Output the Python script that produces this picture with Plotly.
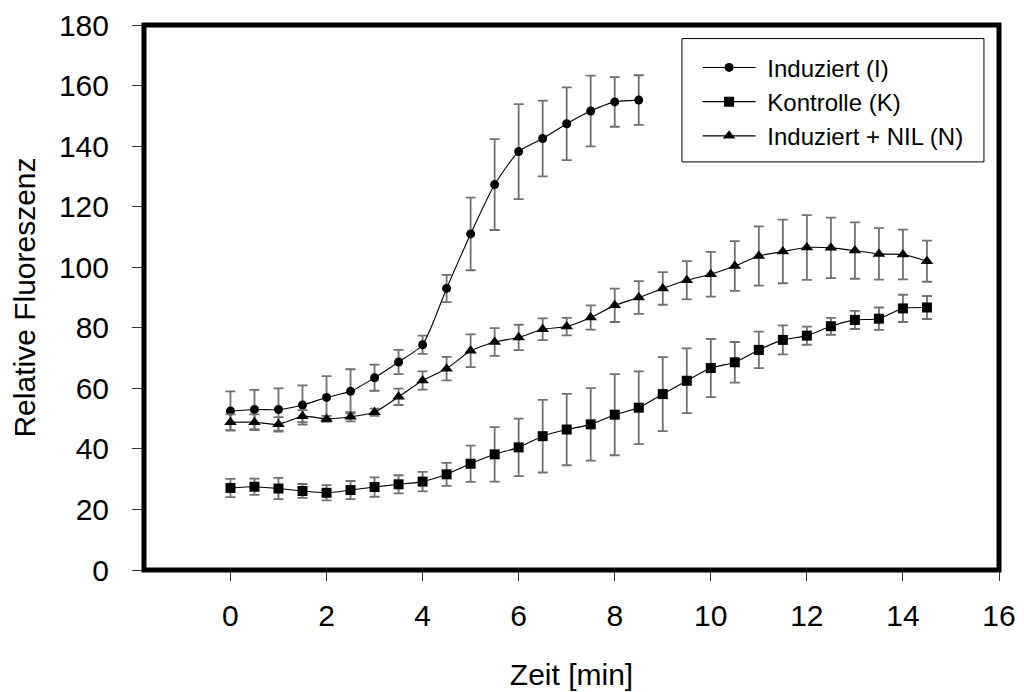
import plotly.graph_objects as go

zeit_i = [0, 0.5, 1, 1.5, 2, 2.5, 3, 3.5, 4, 4.5, 5, 5.5, 6, 6.5, 7, 7.5, 8, 8.5]
induziert = [52.5, 53, 53, 54.5, 57, 59, 63.5, 68.7, 74.4, 93, 111, 127.3, 138.2, 142.5, 147.4, 151.6, 154.6, 155.2]
induziert_err = [6.5, 6.5, 7, 6.5, 7, 7.3, 4.3, 4, 3, 4.5, 12, 15, 15.7, 12.5, 12, 11.7, 8.2, 8.2]

zeit_k = [0, 0.5, 1, 1.5, 2, 2.5, 3, 3.5, 4, 4.5, 5, 5.5, 6, 6.5, 7, 7.5, 8, 8.5, 9, 9.5,
          10, 10.5, 11, 11.5, 12, 12.5, 13, 13.5, 14, 14.5]
kontrolle = [27.1, 27.5, 26.9, 26.1, 25.5, 26.4, 27.4, 28.3, 29.2, 31.6, 35.1, 38.2, 40.5, 44.2,
             46.4, 48.1, 51.3, 53.6, 58.1, 62.5, 66.7, 68.6, 72.7, 76, 77.4, 80.5, 82.6, 83,
             86.4, 86.7]
kontrolle_err = [3, 2.7, 3.5, 2.3, 2.5, 3, 3.2, 3, 3.2, 3.8, 6, 9, 9.5, 12, 11.8, 12, 13.4, 12,
                 12.2, 10.7, 9.6, 6.7, 6, 4.8, 3, 2.8, 3, 3.7, 4.5, 3.8]

zeit_n = zeit_k
nil = [48.8, 48.8, 48.1, 50.8, 49.9, 50.6, 52.1, 57.2, 62.6, 66.5, 72.4, 75.3, 76.8, 79.5, 80.4,
       83.4, 87.4, 90, 93, 95.7, 97.7, 100.4, 103.7, 105.2, 106.5, 106.4, 105.5, 104.4, 104.2, 102]
nil_err = [2.6, 2.6, 2.4, 2, 1, 1.5, 1.2, 2.7, 3, 3.9, 5.4, 4.6, 4.2, 3.6, 2.9, 4, 5.5, 5.4, 5.4,
           6.3, 7.4, 8.2, 9.8, 10.5, 10.7, 10, 9.3, 8.5, 8.2, 6.8]

series_names = ["Induziert (I)", "Kontrolle (K)", "Induziert + NIL (N)"]
x_ticks = [0, 2, 4, 6, 8, 10, 12, 14, 16]
y_ticks = [0, 20, 40, 60, 80, 100, 120, 140, 160, 180]

font = "Liberation Sans, Arial, sans-serif"

def trace(x, y, err, name, symbol, size):
    return go.Scatter(
        x=x, y=y, name="\u00a0" + name, mode="lines+markers", cliponaxis=False,
        line=dict(color="black", width=1.1, shape="spline", smoothing=0.6),
        marker=dict(symbol=symbol, size=size, color="black"),
        error_y=dict(type="data", array=err, visible=True, color="#707070",
                     thickness=1.8, width=5),
    )

fig = go.Figure()
fig.add_trace(trace(zeit_i, induziert, induziert_err, series_names[0], "circle", 9))
fig.add_trace(trace(zeit_k, kontrolle, kontrolle_err, series_names[1], "square", 10))
fig.add_trace(trace(zeit_n, nil, nil_err, series_names[2], "triangle-up", 11))

# plot frame and legend box
fig.add_shape(type="rect", xref="paper", yref="paper", x0=0, x1=1, y0=0, y1=1,
              line=dict(color="black", width=5), layer="above")
fig.add_shape(type="rect", xref="paper", yref="paper", x0=0.6292, x1=0.9824,
              y0=0.7488, y1=0.9751, line=dict(color="black", width=1), layer="below",
              fillcolor="white")

fig.update_layout(
    width=1016, height=684,
    margin=dict(l=136, r=25, t=17, b=122, autoexpand=False),
    paper_bgcolor="white", plot_bgcolor="white",
    font=dict(family=font, color="black"),
    showlegend=True,
    legend=dict(x=0.6475, y=0.9627, xanchor="left", yanchor="top",
                bgcolor="rgba(0,0,0,0)", borderwidth=0,
                font=dict(size=24, family=font), tracegroupgap=0,
                itemwidth=53),
    xaxis=dict(range=[-1.8, 16], tickvals=x_ticks, ticks="outside", ticklen=10,
               tickwidth=1, tickcolor="#333", showline=False, showgrid=False,
               zeroline=False, tickfont=dict(size=30), ticklabelstandoff=9,
               title=dict(text="Zeit [min]", font=dict(size=30), standoff=32)),
    yaxis=dict(range=[0, 180], tickvals=y_ticks, ticks="outside", ticklen=11,
               tickwidth=1, tickcolor="#333", showline=False, showgrid=False,
               zeroline=False, tickfont=dict(size=30), ticklabelstandoff=17,
               title=dict(text="Relative Fluoreszenz", font=dict(size=30), standoff=25)),
)

fig.write_html("out.html")
